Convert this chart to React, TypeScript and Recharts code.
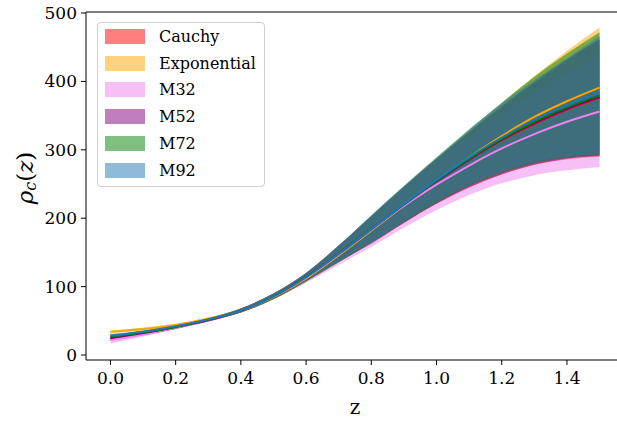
import { ComposedChart, Area, Line, XAxis, YAxis, ReferenceLine } from "recharts";

// redshift grid
const Z = [0, 0.1, 0.2, 0.3, 0.4, 0.5, 0.6, 0.7, 0.8, 0.9, 1.0, 1.1, 1.2, 1.3, 1.4, 1.5];

// posterior mean and 1-sigma band per kernel
const cauchyMean = [24, 31, 40, 51, 65, 86, 114, 148, 184, 220, 254, 286, 314, 338, 359, 376];
const cauchyLo = [21, 29, 38, 49, 62, 82, 108, 136, 163, 193, 221, 245, 264, 278, 286, 290];
const cauchyHi = [27, 33, 42, 53, 68, 90, 120, 160, 203, 245, 286, 325, 362, 397, 430, 460];

const expMean = [34, 38, 44, 53, 65, 85, 112, 146, 182, 219, 255, 289, 320, 348, 371, 391];
const expLo = [32, 36, 42, 51, 62, 81, 106, 135, 164, 196, 226, 253, 275, 292, 302, 307];
const expHi = [36, 40, 46, 55, 68, 89, 118, 157, 202, 245, 287, 328, 368, 408, 445, 479];

const m32Mean = [22, 30, 40, 51, 65, 86, 113, 147, 183, 218, 249, 277, 302, 323, 341, 356];
const m32Lo = [17, 27, 38, 49, 62, 82, 106, 132, 158, 186, 212, 234, 251, 263, 270, 275];
const m32Hi = [27, 33, 42, 53, 68, 90, 120, 160, 203, 243, 283, 320, 353, 383, 411, 437];

const m52Mean = [25, 32, 41, 51, 65, 86, 114, 148, 184, 220, 254, 286, 315, 339, 360, 377];
const m52Lo = [22, 30, 39, 49, 62, 82, 108, 136, 163, 193, 221, 245, 264, 278, 287, 291];
const m52Hi = [28, 34, 43, 53, 68, 90, 120, 160, 203, 246, 287, 326, 364, 399, 432, 462];

const m72Mean = [27, 33, 41, 52, 65, 86, 114, 148, 184, 220, 255, 287, 316, 341, 362, 380];
const m72Lo = [24, 31, 39, 50, 62, 82, 108, 136, 164, 194, 222, 247, 266, 280, 288, 292];
const m72Hi = [30, 35, 43, 54, 68, 90, 120, 160, 204, 247, 289, 330, 369, 407, 441, 472];

const m92Mean = [28, 34, 42, 52, 65, 86, 114, 148, 184, 221, 256, 289, 318, 344, 365, 383];
const m92Lo = [25, 32, 40, 50, 62, 82, 108, 136, 164, 195, 224, 249, 268, 282, 290, 294];
const m92Hi = [31, 36, 44, 54, 68, 90, 120, 160, 204, 247, 288, 329, 368, 402, 434, 466];

const X_TICKS = [0, 0.2, 0.4, 0.6, 0.8, 1.0, 1.2, 1.4];
const Y_TICKS = [0, 100, 200, 300, 400, 500];

const SERIES = [
  { key: "cauchy", name: "Cauchy", color: "#ff0000", mean: cauchyMean, lo: cauchyLo, hi: cauchyHi },
  { key: "exp", name: "Exponential", color: "#ffa500", mean: expMean, lo: expLo, hi: expHi },
  { key: "m32", name: "M32", color: "#ee82ee", mean: m32Mean, lo: m32Lo, hi: m32Hi },
  { key: "m52", name: "M52", color: "#800080", mean: m52Mean, lo: m52Lo, hi: m52Hi },
  { key: "m72", name: "M72", color: "#008000", mean: m72Mean, lo: m72Lo, hi: m72Hi },
  { key: "m92", name: "M92", color: "#1f77b4", mean: m92Mean, lo: m92Lo, hi: m92Hi },
];

const data = Z.map((z, i) => {
  const row: Record<string, any> = { z };
  SERIES.forEach((s) => {
    row[`${s.key}Mean`] = s.mean[i];
    row[`${s.key}Band`] = [s.lo[i], s.hi[i]];
  });
  return row;
});

const X_DOMAIN = [-0.075, 1.575];
const Y_DOMAIN = [-7.3, 501.5];

const FONT = "'DejaVu Serif', serif";
const tickStyle = { fontFamily: FONT, fontSize: 17, fill: "#000" };

function YLabel({ viewBox }: any) {
  const cx = 25;
  const cy = viewBox.y + viewBox.height / 2 - 8;
  return (
    <text
      x={cx}
      y={cy}
      transform={`rotate(-90, ${cx}, ${cy})`}
      textAnchor="middle"
      dominantBaseline="central"
      fontFamily={FONT}
      fontSize={23}
      fill="#000"
    >
      <tspan fontStyle="italic">ρ</tspan>
      <tspan fontStyle="italic" fontSize={16} dy={5}>c</tspan>
      <tspan dy={-5}>(</tspan>
      <tspan fontStyle="italic">z</tspan>
      <tspan>)</tspan>
    </text>
  );
}

function ChartLegend() {
  return (
    <div
      style={{
        position: "absolute",
        left: 97,
        top: 22,
        width: 166,
        height: 163,
        border: "1px solid #d0d0d0",
        borderRadius: 4,
        background: "rgba(255,255,255,0.8)",
        fontFamily: FONT,
        fontSize: 16,
      }}
    >
      {SERIES.map((s, i) => (
        <div
          key={s.key}
          style={{ position: "absolute", left: 7, top: 6 + i * 26.7, display: "flex", alignItems: "center" }}
        >
          <div style={{ width: 40, height: 15, background: s.color, opacity: 0.5 }} />
          <span style={{ marginLeft: 14, lineHeight: "15px" }}>{s.name}</span>
        </div>
      ))}
    </div>
  );
}

export default function App() {
  return (
    <div style={{ position: "absolute", left: 0, top: 0, width: 617, height: 423, overflow: "hidden", background: "#fff" }}>
      <ComposedChart width={640} height={423} data={data} margin={{ top: 12, right: 16, bottom: 0, left: 0 }}>
        <XAxis
          dataKey="z"
          type="number"
          domain={X_DOMAIN}
          ticks={X_TICKS}
          tickFormatter={(v: number) => v.toFixed(1)}
          tick={tickStyle}
          tickSize={5}
          tickMargin={7}
          height={63}
          allowDataOverflow
          stroke="#000"
          label={{ value: "z", position: "insideBottom", offset: 9, style: { fontFamily: FONT, fontSize: 20, fill: "#000" } }}
        />
        <YAxis
          type="number"
          domain={Y_DOMAIN}
          ticks={Y_TICKS}
          tick={tickStyle}
          tickSize={5}
          tickMargin={4}
          width={86}
          allowDataOverflow
          stroke="#000"
          label={{ content: YLabel }}
        />
        {/* top spine */}
        <ReferenceLine y={Y_DOMAIN[1]} stroke="#000" strokeWidth={1.2} ifOverflow="visible" />
        {SERIES.map((s) => (
          <Area
            key={`${s.key}-band`}
            dataKey={`${s.key}Band`}
            type="monotone"
            stroke="none"
            fill={s.color}
            fillOpacity={0.5}
            isAnimationActive={false}
          />
        ))}
        {SERIES.map((s) => (
          <Line
            key={`${s.key}-mean`}
            dataKey={`${s.key}Mean`}
            type="monotone"
            stroke={s.color}
            strokeWidth={2}
            dot={false}
            isAnimationActive={false}
          />
        ))}
      </ComposedChart>
      <ChartLegend />
    </div>
  );
}
